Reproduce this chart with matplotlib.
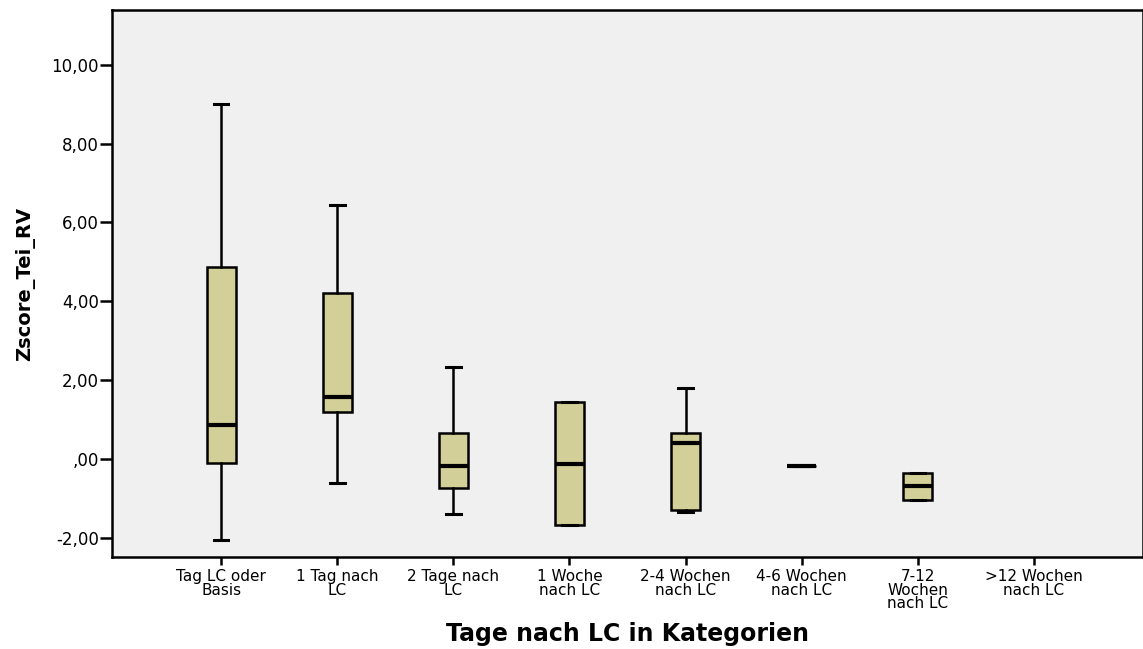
import numpy as np
import matplotlib.pyplot as plt

# Kategorien und Boxplot-Kennwerte
kategorien = ["Tag LC oder\nBasis", "1 Tag nach\nLC", "2 Tage nach\nLC", "1 Woche\nnach LC",
              "2-4 Wochen\nnach LC", "4-6 Wochen\nnach LC", "7-12\nWochen\nnach LC", ">12 Wochen\nnach LC"]
whislo = [-2.05, -0.61, -1.40, -1.69, -1.34, -0.19, -1.04, None]
q1 = [-0.10, 1.19, -0.74, -1.69, -1.29, -0.19, -1.04, None]
med = [0.86, 1.57, -0.18, -0.13, 0.40, -0.19, -0.70, None]
q3 = [4.87, 4.21, 0.66, 1.43, 0.65, -0.19, -0.37, None]
whishi = [9.00, 6.44, 2.33, 1.43, 1.79, -0.19, -0.37, None]

yticks = [-2, 0, 2, 4, 6, 8, 10]
yticklabels = ["-2,00", ",00", "2,00", "4,00", "6,00", "8,00", "10,00"]

plt.rcParams['font.family'] = ['DejaVu Sans']

fig = plt.figure(figsize=(11.43, 6.49), dpi=100)
ax = fig.add_axes([0.098, 0.1418, 0.902, 0.8428])
ax.set_facecolor('#f0f0f0')

stats = []
pos = []
for i in range(len(kategorien)):
    if med[i] is None:
        continue
    stats.append(dict(whislo=whislo[i], q1=q1[i], med=med[i], q3=q3[i], whishi=whishi[i], fliers=[]))
    pos.append(i)

ax.bxp(stats, positions=pos, widths=0.25, patch_artist=True, showfliers=False,
       boxprops=dict(facecolor='#d3cf98', edgecolor='black', linewidth=1.8),
       medianprops=dict(color='black', linewidth=3),
       whiskerprops=dict(color='black', linewidth=1.8),
       capprops=dict(color='black', linewidth=2.2), capwidths=0.125)

ax.set_xlim(-0.94, 7.94)
ax.set_ylim(-2.49, 11.39)
ax.set_xticks(range(len(kategorien)))
ax.set_xticklabels(kategorien, fontsize=11, linespacing=0.85)
ax.set_yticks(yticks)
ax.set_yticklabels(yticklabels, fontsize=12)
for s in ax.spines.values():
    s.set_linewidth(1.8)
ax.tick_params(axis='x', width=1.8, length=6, color='black', pad=3)
ax.tick_params(axis='y', width=1.8, length=9, color='black', pad=0.5)

ax.set_ylabel("Zscore_Tei_RV", fontsize=14, fontweight='bold', labelpad=12)
ax.set_xlabel("Tage nach LC in Kategorien", fontsize=17, fontweight='bold', labelpad=8)

fig.savefig("out.png", dpi=100)
